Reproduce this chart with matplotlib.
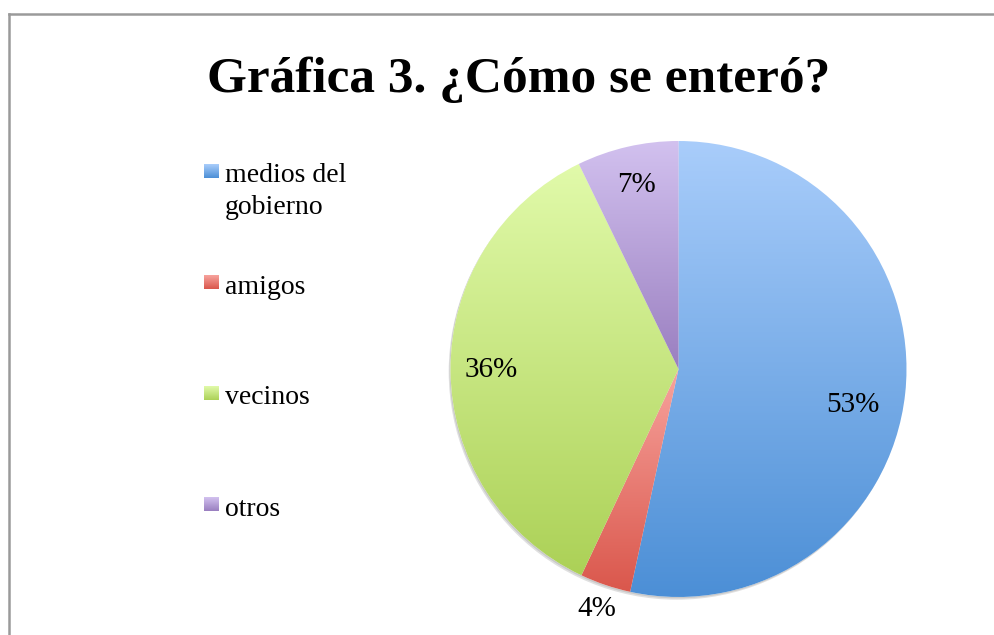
import numpy as np
import matplotlib
matplotlib.use("Agg")
import matplotlib.pyplot as plt
from matplotlib.colors import LinearSegmentedColormap
from matplotlib.patches import Circle
from matplotlib.lines import Line2D

# ---- data ----
title = "Gráfica 3. ¿Cómo se enteró?"
categories = ["medios del\ngobierno", "amigos", "vecinos", "otros"]
values = [53.4, 3.6, 35.8, 7.2]
pct_labels = ["53%", "4%", "36%", "7%"]

# ---- style ----
grad_top = ["#a9cdfb", "#f7a39d", "#e1faaa", "#d2c1ef"]
grad_bot = ["#4c8fd6", "#da574c", "#acd157", "#9a7fc0"]
label_dist = [0.78, 1.11, 0.82, 0.83]
label_angle_nudge = [-5.5, 0.0, 0.0, 0.0]

W, H = 995, 635
fig = plt.figure(figsize=(W / 100, H / 100), dpi=100)
fig.patch.set_facecolor("white")

# overlay axes in pixel coordinates (frame, title, legend)
ov = fig.add_axes([0, 0, 1, 1])
ov.set_xlim(0, W)
ov.set_ylim(H, 0)
ov.axis("off")
ov.patch.set_alpha(0)

# chart frame
ov.add_line(Line2D([9, 9], [13.5, H + 5], color="#9a9a9a", lw=1.8))
ov.add_line(Line2D([9, W + 5], [13.5, 13.5], color="#9a9a9a", lw=1.8))

ov.text(519, 92, title, ha="center", va="baseline",
        fontsize=37, fontweight="bold", family="Liberation Serif", color="black")

# legend
leg_y0, leg_step = 171, 111
for i, cat in enumerate(categories):
    yc = leg_y0 + i * leg_step
    cmap = LinearSegmentedColormap.from_list("g", [grad_top[i], grad_bot[i]])
    grad = np.linspace(0, 1, 50).reshape(-1, 1)
    ov.imshow(grad, cmap=cmap, extent=[204, 219, yc + 7, yc - 7], origin="upper",
              aspect="auto", interpolation="bilinear", zorder=3)
    lines = cat.split("\n")
    for j, ln in enumerate(lines):
        ov.text(225, yc + 11.5 + 32 * j, ln, ha="left", va="baseline",
                fontsize=20, family="Liberation Serif", color="black")
ov.set_xlim(0, W)
ov.set_ylim(H, 0)

# pie axes
cx, cy, R = 678.5, 369, 228
ax = fig.add_axes([(cx - R) / W, (H - cy - R) / H, 2 * R / W, 2 * R / H])
ax.set_aspect("equal")
ax.axis("off")

# faint shadow
ax.add_patch(Circle((-0.008, -0.012), 1.0, color="#000000", alpha=0.12, lw=0, zorder=0))
ax.add_patch(Circle((-0.004, -0.006), 1.0, color="#000000", alpha=0.10, lw=0, zorder=0))

wedges, _ = ax.pie(values, startangle=90, counterclock=False, radius=1.0,
                   wedgeprops=dict(linewidth=0))
for i, w in enumerate(wedges):
    w.set_facecolor("white")
    w.set_zorder(1)
    ext = w.get_path().get_extents()
    cmap = LinearSegmentedColormap.from_list("g", [grad_top[i], grad_bot[i]])
    grad = np.linspace(0, 1, 256).reshape(-1, 1)
    im = ax.imshow(grad, cmap=cmap, extent=[ext.x0, ext.x1, ext.y0, ext.y1],
                   origin="upper", aspect="auto", interpolation="bilinear", zorder=2)
    im.set_clip_path(w)
    # label
    mid = (w.theta1 + w.theta2) / 2 + label_angle_nudge[i]
    r = label_dist[i]
    ax.text(r * np.cos(np.radians(mid)), r * np.sin(np.radians(mid)), pct_labels[i],
            ha="center", va="center", fontsize=21, family="Liberation Serif",
            color="black", zorder=5)

ax.set_xlim(-1.02, 1.02)
ax.set_ylim(-1.02, 1.02)
ax.set_position([(cx - R * 1.02) / W, (H - cy - R * 1.02) / H, 2.04 * R / W, 2.04 * R / H])

fig.savefig("out.png", dpi=100, facecolor="white")
